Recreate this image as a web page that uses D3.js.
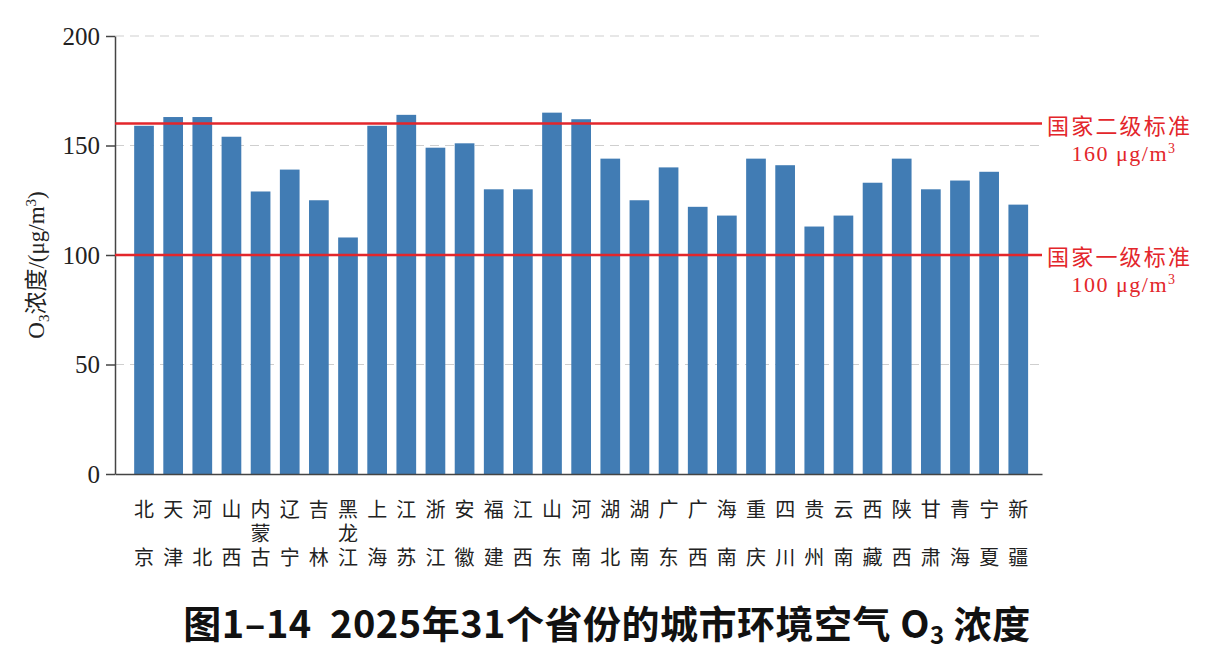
<!DOCTYPE html>
<html>
<head>
    <meta charset="utf-8">
    <title>O3</title>
    <script src="https://cdn.jsdelivr.net/npm/d3@7"></script>
    <style>
        * {
            margin: 0;
            padding: 0;
        }
        body {
            background: #fff;
        }
    </style>
</head>
<body>
    <div id="chart"></div>
    <script>
        // province names (read top to bottom under each bar)
        var provinces = ["北京", "天津", "河北", "山西", "内蒙古", "辽宁", "吉林", "黑龙江", "上海", "江苏",
            "浙江", "安徽", "福建", "江西", "山东", "河南", "湖北", "湖南", "广东", "广西",
            "海南", "重庆", "四川", "贵州", "云南", "西藏", "陕西", "甘肃", "青海", "宁夏", "新疆"];
        var o3Values = [159, 163, 163, 154, 129, 139, 125, 108, 159, 164,
            149, 151, 130, 130, 165, 162, 144, 125, 140, 122,
            118, 144, 141, 113, 118, 133, 144, 130, 134, 138, 123];
        var yTicks = [0, 50, 100, 150, 200];
        var standards = [160, 100];
        var standardNames = ["国家二级标准", "国家一级标准"];
        var standardUnits = ["160 μg/m", "100 μg/m"];

        draw();
        function draw() {
            var W = 1222, H = 669;
            var margin = { left: 115, right: 1042, top: 36, bottom: 474 };

            var svg = d3.select("#chart")
                .append("svg")
                .attr("width", W)
                .attr("height", H);

            svg.append("rect").attr("width", W).attr("height", H).attr("fill", "#fff");

            var x = d3.scaleBand()
                .domain(provinces)
                .range([margin.left, margin.right])
                .paddingInner(0.324)
                .paddingOuter(0.567)
                .align(0.58);

            var y = d3.scaleLinear()
                .domain([0, 200])
                .range([margin.bottom, margin.top]);

            // dashed grid
            svg.append("g")
                .selectAll("line")
                .data(yTicks.slice(1))
                .enter()
                .append("line")
                .attr("x1", margin.left)
                .attr("x2", margin.right - 2)
                .attr("y1", function (d) { return y(d); })
                .attr("y2", function (d) { return y(d); })
                .attr("stroke", "#cfcfcf")
                .attr("stroke-width", 1)
                .attr("stroke-dasharray", "9,6");

            // bars
            svg.append("g")
                .selectAll("rect")
                .data(o3Values)
                .enter()
                .append("rect")
                .attr("x", function (d, i) { return x(provinces[i]); })
                .attr("y", function (d) { return y(d); })
                .attr("width", x.bandwidth())
                .attr("height", function (d) { return y(0) - y(d); })
                .attr("fill", "#417cb4");

            // y axis
            var yAxis = svg.append("g")
                .attr("transform", "translate(" + margin.left + ",0)")
                .call(d3.axisLeft(y).tickValues(yTicks).tickSize(9).tickPadding(6).tickSizeOuter(0));
            yAxis.select(".domain").attr("stroke", "#444").attr("stroke-width", 1.5);
            yAxis.selectAll(".tick line").attr("stroke", "#444").attr("stroke-width", 1.5);
            yAxis.selectAll(".tick text")
                .attr("font-family", "Liberation Serif, serif")
                .attr("font-size", 25)
                .attr("fill", "#222");

            // x axis
            var xAxis = svg.append("g")
                .attr("transform", "translate(0," + margin.bottom + ")")
                .call(d3.axisBottom(x).tickSize(0).tickSizeOuter(0).tickFormat(""));
            xAxis.select(".domain").attr("stroke", "#444").attr("stroke-width", 1.5);

            // vertical province labels
            var labels = svg.append("g")
                .selectAll("text")
                .data(provinces)
                .enter()
                .append("text")
                .attr("font-family", "Noto Sans CJK SC")
                .attr("font-size", 20)
                .attr("fill", "#222")
                .attr("text-anchor", "middle");
            labels.each(function (d) {
                var chars = d.split("");
                var cx = x(d) + x.bandwidth() / 2;
                var t = d3.select(this);
                chars.forEach(function (c, k) {
                    var row = (k == chars.length - 1) ? 2 : k;
                    t.append("tspan")
                        .attr("x", cx)
                        .attr("y", 508 + row * 24)
                        .attr("dominant-baseline", "central")
                        .text(c);
                });
            });

            // standard lines
            svg.append("g")
                .selectAll("line")
                .data(standards)
                .enter()
                .append("line")
                .attr("x1", margin.left)
                .attr("x2", margin.right)
                .attr("y1", function (d) { return y(d); })
                .attr("y2", function (d) { return y(d); })
                .attr("stroke", "#e3262b")
                .attr("stroke-width", 2.5);

            var std = svg.append("g")
                .selectAll("g")
                .data(standards)
                .enter()
                .append("g")
                .attr("transform", function (d) { return "translate(0," + y(d) + ")"; });
            std.append("text")
                .attr("x", 1047)
                .attr("y", 0)
                .attr("dominant-baseline", "central")
                .attr("font-family", "Noto Sans CJK SC")
                .attr("font-size", 22)
                .attr("letter-spacing", 2.2)
                .attr("fill", "#e3262b")
                .text(function (d, i) { return standardNames[i]; });
            var unit = std.append("text")
                .attr("x", 1124)
                .attr("y", 29)
                .attr("text-anchor", "middle")
                .attr("dominant-baseline", "central")
                .attr("font-family", "Liberation Serif, serif")
                .attr("font-size", 22)
                .attr("letter-spacing", 1.5)
                .attr("fill", "#e3262b");
            unit.append("tspan").text(function (d, i) { return standardUnits[i]; });
            unit.append("tspan").attr("font-size", 14).attr("dy", -5).text("3");

            // y axis title
            var yt = svg.append("text")
                .attr("transform", "translate(44,265) rotate(-90)")
                .attr("text-anchor", "middle")
                .attr("font-family", "Liberation Serif, Noto Sans CJK SC")
                .attr("font-size", 23)
                .attr("fill", "#222");
            yt.append("tspan").text("O");
            yt.append("tspan").attr("font-size", 15).attr("dy", 5).text("3");
            yt.append("tspan").attr("dy", -5).attr("font-family", "Noto Sans CJK SC").text("浓度");
            yt.append("tspan").text("/(μg/m");
            yt.append("tspan").attr("font-size", 15).attr("dy", -8).text("3");
            yt.append("tspan").attr("dy", 8).text(")");

            // caption
            var title = svg.append("text")
                .attr("x", 607)
                .attr("y", 638)
                .attr("text-anchor", "middle")
                .attr("font-family", "Noto Sans CJK SC")
                .attr("font-weight", "bold")
                .attr("font-size", 38)
                .attr("letter-spacing", 0.5)
                .style("white-space", "pre")
                .attr("fill", "#111");
            title.append("tspan").text("图1–14  2025年31个省份的城市环境空气 O");
            title.append("tspan").attr("font-size", 24).attr("dy", 6).text("3");
            title.append("tspan").attr("dy", -6).text(" 浓度");
        }
    </script>
</body>
</html>
